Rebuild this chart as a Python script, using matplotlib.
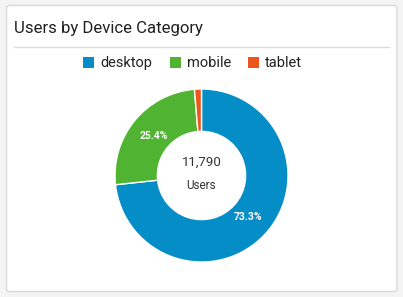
import matplotlib
matplotlib.use("Agg")
import matplotlib.pyplot as plt
from matplotlib.patches import FancyBboxPatch, Rectangle
from matplotlib.lines import Line2D

plt.rcParams['font.family'] = ['Roboto', 'DejaVu Sans']

# data
categories = ['desktop', 'mobile', 'tablet']
users = [8642, 2995, 153]
colors = ['#058dc7', '#50b432', '#ed561b']
total_label = '11,790'
center_caption = 'Users'
title = 'Users by Device Category'

W, H = 403, 297
fig = plt.figure(figsize=(W / 100, H / 100), dpi=100)
fig.patch.set_facecolor('#f4f4f4')

def fx(x):
    return x / W

def fy(y):
    return 1 - y / H

# card background, kept behind the donut axes
card = FancyBboxPatch((fx(6.5), fy(291.5)), fx(390.5), (291.5 - 5.5) / H,
                      boxstyle="round,pad=0,rounding_size=0.008",
                      transform=fig.transFigure, facecolor='white',
                      edgecolor='#d9d9d9', linewidth=1.0, zorder=-5)
fig.patches.append(card)

fig.text(fx(14), fy(33.5), title, fontsize=12.1, color='#212121',
         ha='left', va='baseline')
fig.lines.append(Line2D([fx(14), fx(389)], [fy(46.5), fy(46.5)],
                        transform=fig.transFigure, color='#dcdcdc', linewidth=1))

# legend drawn by hand
legend_x = [83, 170, 248]
for x, name, c in zip(legend_x, categories, colors):
    fig.patches.append(Rectangle((fx(x), fy(68)), fx(11), 11 / H,
                                 transform=fig.transFigure, facecolor=c,
                                 edgecolor='none'))
    fig.text(fx(x + 17), fy(67), name, fontsize=10.5, color='#222222',
             ha='left', va='baseline')

# donut
cx, cy, r = 201.5, 175.5, 86.5
ax = fig.add_axes([fx(cx - r), fy(cy + r), 2 * r / W, 2 * r / H])
ax.patch.set_alpha(0)

def pct(p):
    return '%.1f%%' % p if p > 5 else ''

wedges, texts, autotexts = ax.pie(users, colors=colors, startangle=90,
                                  counterclock=False, radius=1,
                                  autopct=pct, pctdistance=0.72,
                                  wedgeprops=dict(width=0.49, edgecolor='white',
                                                  linewidth=1))
for t in autotexts:
    t.set_color('white')
    t.set_fontsize(7.5)
    t.set_fontweight('bold')
ax.set_xlim(-1, 1)
ax.set_ylim(-1, 1)
ax.set_aspect('auto')
ax.axis('off')

fig.text(fx(cx), fy(162), total_label, fontsize=9.5, color='#333333',
         ha='center', va='center')
fig.text(fx(cx), fy(185.5), center_caption, fontsize=8.5, color='#333333',
         ha='center', va='center')

fig.savefig('out.png', dpi=100, facecolor=fig.get_facecolor())
